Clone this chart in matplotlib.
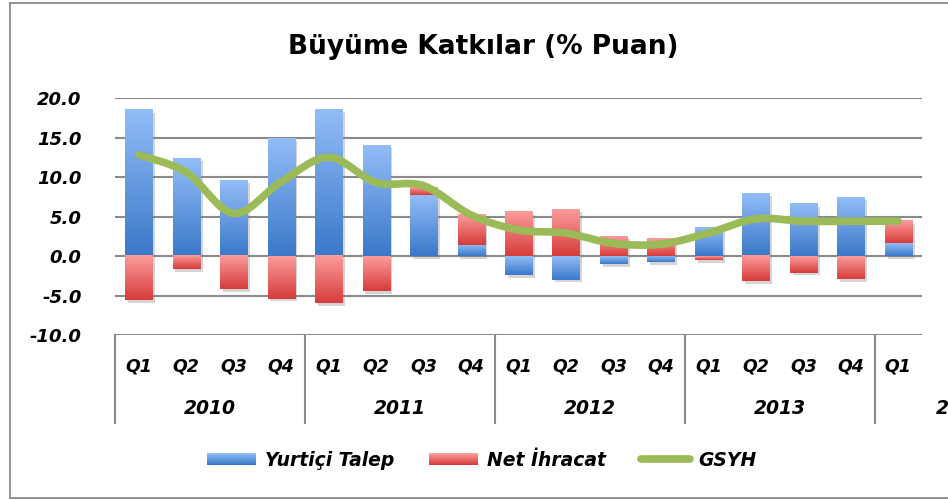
import numpy as np
import matplotlib
matplotlib.use("Agg")
import matplotlib.pyplot as plt
from matplotlib.colors import LinearSegmentedColormap
from matplotlib.patches import Rectangle, PathPatch, Patch
from matplotlib.lines import Line2D
from matplotlib.path import Path
from matplotlib.legend_handler import HandlerBase
from matplotlib import patheffects as pe
from matplotlib.transforms import blended_transform_factory

# --- data ---
quarters = ["Q1", "Q2", "Q3", "Q4"] * 4 + ["Q1"]
years = ["2010", "2011", "2012", "2013", "2014"]
year_sizes = [4, 4, 4, 4, 1]
yurtici = [18.5, 12.4, 9.6, 14.9, 18.6, 14.0, 7.7, 1.4,
           -2.4, -3.0, -1.0, -0.8, 3.6, 7.9, 6.6, 7.4, 1.6]
net_ihracat = [-5.6, -1.7, -4.2, -5.4, -6.0, -4.4, 1.0, 3.8,
               5.6, 5.9, 2.5, 2.2, -0.5, -3.2, -2.1, -2.9, 2.8]
gsyh = [12.8, 10.6, 5.4, 9.4, 12.5, 9.3, 8.9, 5.2,
        3.3, 2.9, 1.6, 1.5, 2.9, 4.7, 4.4, 4.4, 4.4]

BLUE = ("#3b78c9", "#92bdf7")   # dark, light
RED = ("#d63c3a", "#fb9d9c")
GREEN = "#9bbb59"
GRID = "#8a8a8a"
FONT = ["DejaVu Sans"]

plt.rcParams["font.family"] = FONT

fig = plt.figure(figsize=(9.48, 5.0), dpi=100)
ax = fig.add_axes([115 / 948, 1 - 335 / 500, (922 - 115) / 948, (335 - 98) / 500])

x = np.arange(len(quarters))
blue = np.array(yurtici)
red = np.array(net_ihracat)
red_bottom = np.where(np.sign(red) == np.sign(blue), blue, 0.0)
bar_w = 0.57


def gradient_bars(container, colors):
    cmap = LinearSegmentedColormap.from_list("g", list(colors))
    grad = np.linspace(0, 1, 128).reshape(-1, 1)
    for rect in container:
        x0, y0 = rect.get_xy()
        w, h = rect.get_width(), rect.get_height()
        ax.imshow(grad, cmap=cmap, origin="lower", aspect="auto",
                  extent=[x0, x0 + w, min(y0, y0 + h), max(y0, y0 + h)],
                  interpolation="bilinear", zorder=3)


shadow = [pe.SimplePatchShadow(offset=(2, -2), shadow_rgbFace="#777777", alpha=0.3), pe.Normal()]
b1 = ax.bar(x, blue, bar_w, color=BLUE[0], zorder=2, path_effects=shadow)
b2 = ax.bar(x, red, bar_w, bottom=red_bottom, color=RED[0], zorder=2, path_effects=shadow)
gradient_bars(b1, BLUE)
gradient_bars(b2, RED)

# smoothed GSYH line (Excel-style smoothing through the data points)
pts = np.column_stack([x, gsyh]).astype(float)
verts = [pts[0]]
codes = [Path.MOVETO]
n = len(pts)
for i in range(n - 1):
    p0 = pts[i - 1] if i > 0 else pts[i]
    p1, p2 = pts[i], pts[i + 1]
    p3 = pts[i + 2] if i + 2 < n else pts[i + 1]
    verts += [p1 + (p2 - p0) / 6, p2 - (p3 - p1) / 6, p2]
    codes += [Path.CURVE4] * 3
ax.add_patch(PathPatch(Path(verts, codes), fill=False, edgecolor=GREEN, lw=5.5,
                       capstyle="round", joinstyle="round", zorder=5))

ax.set_xlim(-0.5, 16.5)
ax.set_ylim(-10, 20)
ax.set_yticks(np.arange(-10, 21, 5))
ax.set_yticklabels([f"{v:.1f}" for v in np.arange(-10, 21, 5)],
                   fontsize=13, fontweight="bold", fontstyle="italic")
ax.tick_params(axis="y", length=0, pad=24)
ax.set_xticks([])
ax.yaxis.grid(True, color=GRID, lw=1.5)
ax.set_axisbelow(True)
for s in ax.spines.values():
    s.set_visible(False)

# multi-level category axis
tr = blended_transform_factory(ax.transData, ax.transAxes)
for xi, q in zip(x, quarters):
    ax.text(xi, -0.131, q, transform=tr, ha="center", va="center",
            fontsize=12.5, fontweight="bold", fontstyle="italic", clip_on=False)
start = 0
for yr, size in zip(years, year_sizes):
    ax.plot([start - 0.5, start - 0.5], [0, -0.371], transform=tr, color=GRID,
            lw=1.5, clip_on=False)
    xc = start + (size - 1) / 2 if size > 1 else 17.35
    ax.text(xc, -0.312, yr, transform=tr, ha="center", va="center",
            fontsize=13.5, fontweight="bold", fontstyle="italic", clip_on=False)
    start += size

fig.text(483 / 948, 1 - 47 / 500, "Büyüme Katkılar (% Puan)", ha="center", va="center",
         fontsize=19, fontweight="bold")


class GradientHandler(HandlerBase):
    def __init__(self, colors):
        super().__init__()
        self.cmap = LinearSegmentedColormap.from_list("h", list(colors))

    def create_artists(self, legend, orig_handle, xdescent, ydescent, width, height, fontsize, trans):
        k = 12
        out = []
        for i in range(k):
            out.append(Rectangle((-xdescent, -ydescent + height * i / k), width, height / k * 1.05,
                                 facecolor=self.cmap(i / (k - 1)), edgecolor="none", transform=trans))
        return out


h_blue = Patch(label="Yurtiçi Talep")
h_red = Patch(label="Net İhracat")
h_line = Line2D([], [], color=GREEN, lw=5.5, solid_capstyle="round", label="GSYH")
fig.legend(handles=[h_blue, h_red, h_line], loc="center", bbox_to_anchor=(482 / 948, 1 - 460 / 500),
           ncol=3, frameon=False, handlelength=2.6, handleheight=0.6, handletextpad=0.45,
           columnspacing=1.9, prop={"size": 13.5, "weight": "bold", "style": "italic"},
           handler_map={h_blue: GradientHandler(BLUE), h_red: GradientHandler(RED)})

# chart area border (right side is cut off in the reference)
for xs, ys in [([9.5, 9.5], [3, 498]), ([9.5, 960], [3, 3]), ([9.5, 960], [498, 498])]:
    fig.add_artist(Line2D([v / 948 for v in xs], [1 - v / 500 for v in ys], color=GRID, lw=1.3))

fig.savefig("out.png", dpi=100)
